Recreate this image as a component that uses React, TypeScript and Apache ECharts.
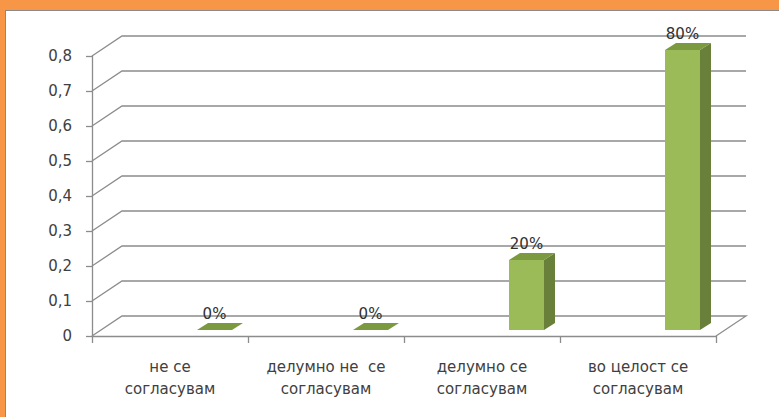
import React, { useEffect, useRef } from "react";
import * as echarts from "echarts";

const categories = [
  "не се\nсогласувам",
  "делумно не  се\nсогласувам",
  "делумно се\nсогласувам",
  "во целост се\nсогласувам",
];
const values = [0, 0, 0.2, 0.8];
const valueLabels = ["0%", "0%", "20%", "80%"];
const yTicks = [0, 0.1, 0.2, 0.3, 0.4, 0.5, 0.6, 0.7, 0.8];

const DX = 30;
const DY = -20;
const BAR_OFF = 27;
const BAR_W = 35;
const BASE_UP = 6;
const DDX = 11;
const DDY = -7;

export default function App() {
  const ref = useRef<HTMLDivElement>(null);
  useEffect(() => {
    const chart = echarts.init(ref.current!, null, { renderer: "svg" });
    const font = "DejaVu Sans";
    chart.setOption({
      animation: false,
      backgroundColor: "#ffffff",
      graphic: [
        { type: "rect", shape: { x: 0, y: 0, width: 779, height: 10 }, style: { fill: "#F79646" }, silent: true },
        { type: "rect", shape: { x: 0, y: 0, width: 5, height: 417 }, style: { fill: "#F79646" }, silent: true },
        { type: "line", shape: { x1: 5, y1: 10.5, x2: 779, y2: 10.5 }, style: { stroke: "#8a8a8a", lineWidth: 1 }, silent: true },
        { type: "line", shape: { x1: 5.5, y1: 10, x2: 5.5, y2: 417 }, style: { stroke: "#8a8a8a", lineWidth: 1 }, silent: true },
      ],
      grid: { left: 92, right: 63, top: 56, bottom: 81, containLabel: false },
      xAxis: {
        type: "category",
        data: categories,
        boundaryGap: true,
        axisLine: { show: true, lineStyle: { color: "#8c8c8c", width: 1.3 } },
        axisTick: { show: true, length: 7, alignWithLabel: false, lineStyle: { color: "#8c8c8c", width: 1.3 } },
        axisLabel: {
          color: "#404040",
          fontFamily: font,
          fontSize: 15,
          lineHeight: 22,
          margin: 20,
          interval: 0,
          align: "center",
        },
        splitLine: { show: false },
      },
      yAxis: {
        type: "value",
        min: 0,
        max: 0.8,
        interval: 0.1,
        axisLine: { show: true, lineStyle: { color: "#8c8c8c", width: 1.3 } },
        axisTick: { show: true, length: 6, lineStyle: { color: "#8c8c8c", width: 1.3 } },
        axisLabel: {
          color: "#404040",
          fontFamily: font,
          fontSize: 15,
          margin: 20,
          formatter: (v: number) => (Math.round(v * 10) / 10).toString().replace(".", ","),
        },
        splitLine: { show: false },
      },
      series: [
        {
          type: "custom",
          z: 1,
          silent: true,
          data: yTicks.map((t) => [0, t]),
          renderItem: (params: any, api: any) => {
            const v = api.value(1);
            const p = api.coord([0, v]);
            const cs = params.coordSys;
            const x0 = cs.x;
            const x1 = cs.x + cs.width;
            const y = p[1];
            const pts =
              v === 0
                ? [[x0, y], [x0 + DX, y + DY], [x1 + DX, y + DY], [x1, y]]
                : [[x0, y], [x0 + DX, y + DY], [x1 + DX, y + DY]];
            return {
              type: "polyline",
              shape: { points: pts },
              style: { stroke: "#8c8c8c", lineWidth: 1.3, fill: null },
            };
          },
        },
        {
          type: "custom",
          z: 5,
          silent: true,
          data: values.map((v, i) => [i, v]),
          renderItem: (params: any, api: any) => {
            const idx = api.value(0);
            const v = api.value(1);
            const c = api.coord([idx, v]);
            const b = api.coord([idx, 0]);
            const left = b[0] + BAR_OFF;
            const yTop = c[1] - BASE_UP;
            const yBase = b[1] - BASE_UP;
            const right = left + BAR_W;
            const children: any[] = [];
            if (yBase - yTop > 0.5) {
              children.push({
                type: "rect",
                shape: { x: left, y: yTop, width: BAR_W, height: yBase - yTop },
                style: { fill: "#9BBB59" },
              });
              children.push({
                type: "polygon",
                shape: {
                  points: [
                    [right, yTop],
                    [right + DDX, yTop + DDY],
                    [right + DDX, yBase + DDY],
                    [right, yBase],
                  ],
                },
                style: { fill: "#68803A" },
              });
            }
            children.push({
              type: "polygon",
              shape: {
                points: [
                  [left, yTop],
                  [left + DDX, yTop + DDY],
                  [right + DDX, yTop + DDY],
                  [right, yTop],
                ],
              },
              style: { fill: "#7B9A40" },
            });
            children.push({
              type: "text",
              style: {
                x: left + BAR_W / 2,
                y: yTop + DDY - 2,
                text: valueLabels[params.dataIndex],
                fill: "#303030",
                font: `15px "${font}"`,
                align: "center",
                verticalAlign: "bottom",
              },
            });
            return { type: "group", children };
          },
        },
      ],
    });
    return () => chart.dispose();
  }, []);
  return (
    <div
      ref={ref}
      style={{ position: "fixed", left: 0, top: 0, width: 779, height: 417, background: "#fff" }}
    />
  );
}
